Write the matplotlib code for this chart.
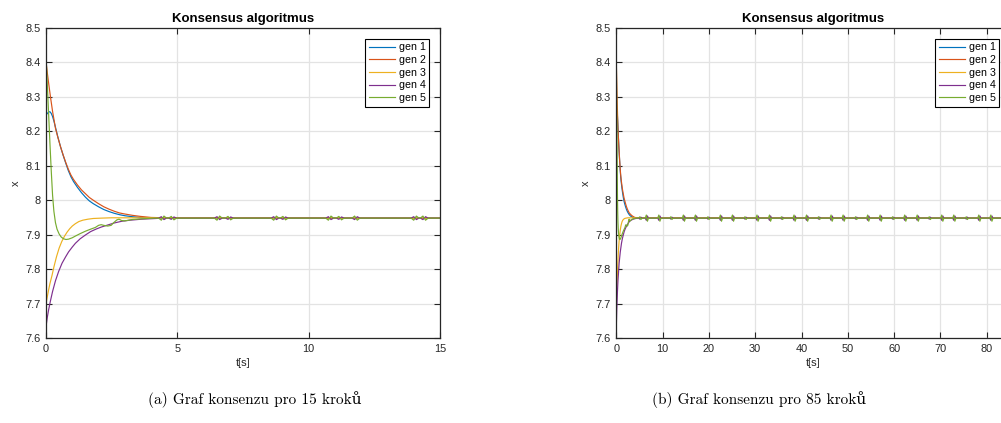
import matplotlib
matplotlib.use("Agg")
import matplotlib.pyplot as plt
from matplotlib.ticker import FuncFormatter

plt.rcParams['font.family'] = ['Liberation Sans', 'DejaVu Sans']

# ---------------- data ----------------
labels = ["gen 1", "gen 2", "gen 3", "gen 4", "gen 5"]
colors = ["#0072BD", "#D95319", "#EDB120", "#7E2F8E", "#77AC30"]

# transient part (same start for both simulations)
g1_t = [0, 0.05, 0.1, 0.15, 0.2, 0.25, 0.3, 0.36, 0.45, 0.55, 0.65, 0.75, 0.85, 0.95, 1.05,
        1.2, 1.35, 1.5, 1.65, 1.8, 2.0, 2.2, 2.4, 2.6, 2.8, 3.0, 3.3, 3.6, 4.0, 4.4]
g1_v = [8.247, 8.252, 8.256, 8.257, 8.252, 8.243, 8.230, 8.212, 8.184, 8.156, 8.131, 8.108,
        8.086, 8.068, 8.054, 8.037, 8.022, 8.009, 7.998, 7.990, 7.981, 7.973, 7.967, 7.962,
        7.958, 7.955, 7.952, 7.950, 7.949, 7.948]

g2_t = [0, 0.05, 0.1, 0.17, 0.25, 0.36, 0.45, 0.55, 0.65, 0.75, 0.85, 0.95, 1.05, 1.2, 1.35,
        1.5, 1.65, 1.8, 2.0, 2.2, 2.4, 2.6, 2.8, 3.0, 3.3, 3.6, 4.0, 4.5]
g2_v = [8.402, 8.370, 8.340, 8.300, 8.258, 8.209, 8.183, 8.156, 8.132, 8.110, 8.090, 8.073,
        8.060, 8.044, 8.030, 8.019, 8.008, 8.000, 7.990, 7.981, 7.974, 7.968, 7.963, 7.960,
        7.956, 7.953, 7.950, 7.949]

g3_t = [0, 0.05, 0.1, 0.15, 0.23, 0.3, 0.4, 0.5, 0.6, 0.7, 0.8, 0.9, 1.0, 1.12, 1.25, 1.4,
        1.6, 1.8, 2.1, 2.5]
g3_v = [7.700, 7.720, 7.740, 7.758, 7.782, 7.806, 7.836, 7.861, 7.880, 7.895, 7.907, 7.917,
        7.925, 7.932, 7.938, 7.942, 7.945, 7.947, 7.948, 7.949]

g4_t = [0, 0.05, 0.1, 0.17, 0.25, 0.36, 0.48, 0.61, 0.75, 0.86, 1.0, 1.12, 1.3, 1.5, 1.7,
        1.9, 2.1, 2.39, 2.6, 2.89, 3.2, 3.65, 4.2]
g4_v = [7.633, 7.660, 7.682, 7.708, 7.735, 7.766, 7.793, 7.817, 7.836, 7.850, 7.864, 7.875,
        7.888, 7.899, 7.909, 7.916, 7.922, 7.929, 7.934, 7.939, 7.942, 7.945, 7.947]

g5_t = [0, 0.05, 0.1, 0.15, 0.2, 0.25, 0.3, 0.36, 0.42, 0.5, 0.58, 0.67, 0.76, 0.86, 1.0,
        1.12, 1.3, 1.5, 1.7, 1.88, 2.0, 2.1, 2.2, 2.35, 2.48, 2.58, 2.7, 2.78, 2.88, 3.0,
        3.28, 3.65, 4.1]
g5_v = [8.420, 8.335, 8.250, 8.165, 8.085, 8.015, 7.968, 7.935, 7.916, 7.902, 7.893, 7.888,
        7.886, 7.887, 7.891, 7.896, 7.903, 7.910, 7.916, 7.921, 7.927, 7.929, 7.927, 7.925,
        7.927, 7.935, 7.943, 7.945, 7.941, 7.940, 7.944, 7.946, 7.948]

steady = 7.948

# small oscillations in the settled part
left_wig_t = [4.44, 4.82, 6.56, 6.98, 8.72, 9.07, 10.8, 11.2, 11.5, 11.8, 14.05, 14.4, 14.7]
left_wig_a = [-0.006, 0.005, -0.006, 0.005, -0.006, 0.005, -0.006, 0.005, -0.006, 0.006,
              -0.006, 0.006, -0.005]

right_wig_t = [3.8, 5.2, 6.6, 9.3, 11.9, 14.6, 17.2, 19.9, 22.6, 25.2, 27.9, 30.5, 33.2, 35.8,
               38.5, 41.2, 43.8, 46.5, 49.1, 51.8, 54.4, 57.1, 59.8, 62.4, 65.1, 67.7,
               70.4, 73.0, 75.7, 78.4, 81.0, 83.7]
right_wig_a = [0.004, 0.004, 0.009, 0.009, 0.004, 0.009, 0.009, 0.004, 0.009, 0.009, 0.004, 0.009,
               0.009, 0.004, 0.009, 0.009, 0.004, 0.009, 0.009, 0.004, 0.009, 0.009, 0.004, 0.009,
               0.009, 0.004, 0.009, 0.009, 0.004, 0.009, 0.009, 0.004]

titles = ["Konsensus algoritmus", "Konsensus algoritmus"]
captions = ["(a) Graf konsenzu pro 15 kroků", "(b) Graf konsenzu pro 85 kroků"]
t_end = [15, 85]
left_xticks = [0, 5, 10, 15]
right_xticks = [0, 10, 20, 30, 40, 50, 60, 70, 80]
yticks = [7.6, 7.7, 7.8, 7.9, 8.0, 8.1, 8.2, 8.3, 8.4, 8.5]

trans = [(g1_t, g1_v), (g2_t, g2_v), (g3_t, g3_v), (g4_t, g4_v), (g5_t, g5_v)]


def series(tr_t, tr_v, tend, wt, wa, half, wiggle):
    t = list(tr_t)
    v = list(tr_v)
    if wiggle:
        for tw, aw in zip(wt, wa):
            if tw > t[-1] + half:
                t += [tw - half, tw - half / 3, tw + half / 3, tw + half]
                v += [steady, steady + aw, steady - aw, steady]
    t.append(tend)
    v.append(steady)
    return t, v


fig = plt.figure(figsize=(10.01, 4.23), dpi=100)
ax_l = fig.add_axes([46 / 1001, 1 - 338 / 423, 394 / 1001, 310 / 423])
ax_r = fig.add_axes([616.3 / 1001, 1 - 338 / 423, 393.6 / 1001, 310 / 423])

axcol = "#262626"
for k, ax in enumerate([ax_l, ax_r]):
    wt = left_wig_t if k == 0 else right_wig_t
    wa = left_wig_a if k == 0 else right_wig_a
    half = 0.15 if k == 0 else 0.35
    for i, (tt, vv) in enumerate(trans):
        wig = i in (3, 4)
        amp = wa if i == 4 else [-a * 0.7 for a in wa]
        t, v = series(tt, vv, t_end[k], wt, amp, half, wig)
        ax.plot(t, v, color=colors[i], lw=0.85, label=labels[i])
    ax.set_xlim(0, t_end[k])
    ax.set_ylim(7.6, 8.5)
    ax.set_yticks(yticks)
    ax.yaxis.set_major_formatter(FuncFormatter(lambda y, p: "%g" % round(y, 1)))
    ax.set_xticks(left_xticks if k == 0 else right_xticks)
    ax.grid(True, color="#e3e3e3", lw=0.9)
    ax.set_axisbelow(True)
    ax.tick_params(direction="in", length=4, width=0.8, colors=axcol, labelsize=7.9,
                   top=True, right=True, pad=4, labelcolor=axcol)
    for s in ax.spines.values():
        s.set_color(axcol)
        s.set_linewidth(0.9)
    ax.set_title(titles[k], fontsize=9.5, fontweight="bold", pad=4)
    ax.set_xlabel("t[s]", fontsize=7.9, color=axcol, labelpad=3)
    ax.set_ylabel("x", fontsize=7.9, color=axcol, labelpad=3)
    leg = ax.legend(loc="upper right", fontsize=7.7, fancybox=False, framealpha=1,
                    edgecolor="black", borderaxespad=1.0, handlelength=2.5,
                    handletextpad=0.3, borderpad=0.35, labelspacing=0.25)
    leg.get_frame().set_linewidth(0.8)

fig.text(255 / 1001, 1 - 400 / 423, captions[0], ha="center", va="center",
         fontsize=11, family=["cmr10", "DejaVu Serif"])
fig.text(759 / 1001, 1 - 400 / 423, captions[1], ha="center", va="center",
         fontsize=11, family=["cmr10", "DejaVu Serif"])

fig.savefig("out.png", dpi=100)
